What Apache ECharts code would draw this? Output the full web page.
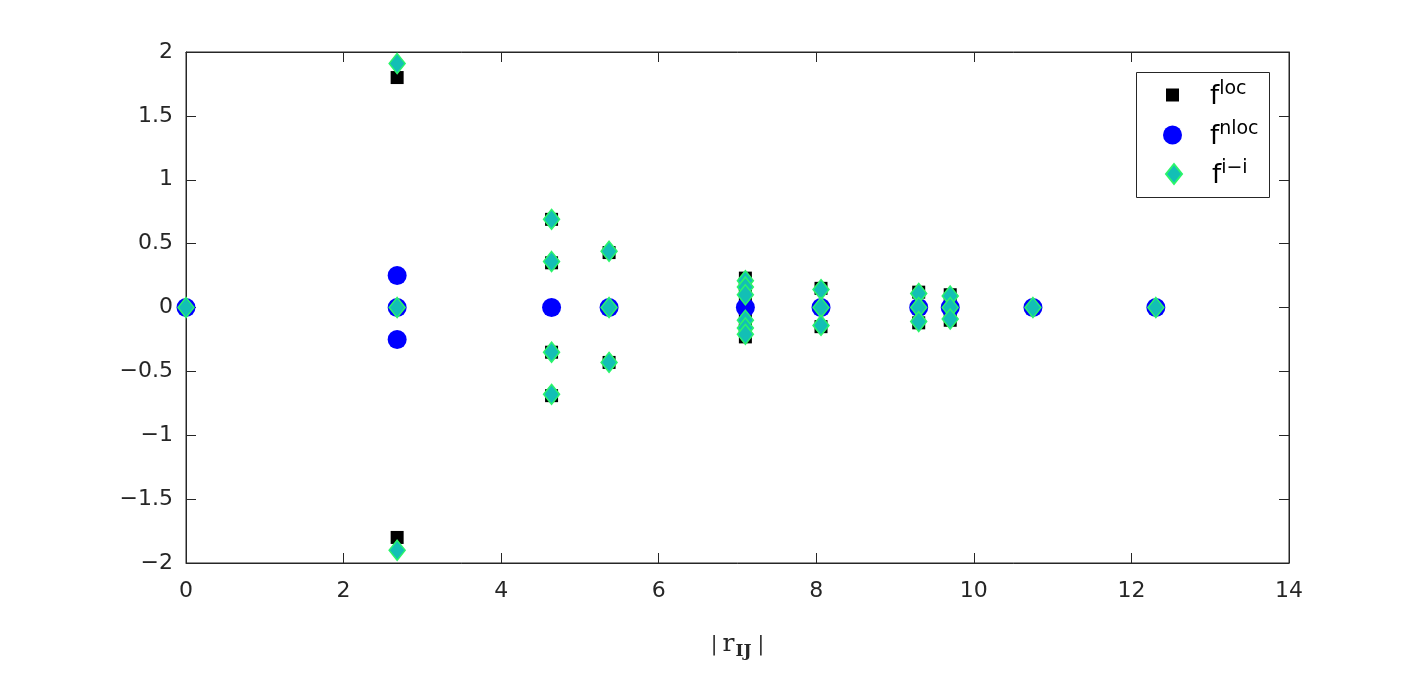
<!DOCTYPE html>
<html>
<head>
<meta charset="UTF-8">
<title>forces</title>
<script src="https://cdn.jsdelivr.net/npm/echarts@6/dist/echarts.min.js"></script>
<style>
  html, body { margin: 0; padding: 0; background: #fff; }
  #main { width: 1427px; height: 688px; }
</style>
</head>
<body>
<div id="main"></div>
<script>
// distances |r_IJ| and force components
var locX  = [0, 2.68, 2.68, 2.68, 4.64, 4.64, 4.64, 4.64, 5.37, 5.37, 5.37,
             7.1, 7.1, 7.1, 7.1, 7.1, 7.1, 8.06, 8.06, 8.06, 9.3, 9.3, 9.3, 9.7, 9.7, 9.7, 10.75, 12.31];
var locY  = [0, 1.8, 0, -1.8, 0.69, 0.35, -0.35, -0.69, 0.43, 0, -0.43,
             0.23, 0.18, 0.1, -0.1, -0.18, -0.23, 0.15, 0, -0.15, 0.12, 0, -0.12, 0.1, 0, -0.1, 0, 0];
var nlocX = [0, 2.68, 2.68, 2.68, 4.64, 5.37, 7.1, 8.06, 9.3, 9.7, 10.75, 12.31];
var nlocY = [0, 0.25, 0, -0.25, 0, 0, 0, 0, 0, 0, 0, 0];
var iiX   = [0, 2.68, 2.68, 2.68, 4.64, 4.64, 4.64, 4.64, 5.37, 5.37, 5.37,
             7.1, 7.1, 7.1, 7.1, 7.1, 7.1, 8.06, 8.06, 8.06, 9.3, 9.3, 9.3, 9.7, 9.7, 9.7, 10.75, 12.31];
var iiY   = [0, 1.91, 0, -1.9, 0.69, 0.36, -0.35, -0.68, 0.44, 0, -0.43,
             0.21, 0.16, 0.1, -0.1, -0.16, -0.21, 0.14, 0, -0.14, 0.11, 0, -0.11, 0.09, 0, -0.09, 0, 0];

function pairs(xs, ys) {
    return xs.map(function (x, i) { return [x, ys[i]]; });
}

var chart = echarts.init(document.getElementById('main'));
var axisColor = '#262626';
var font = 'DejaVu Sans';
var serif = 'DejaVu Serif';

function fmtY(v) {
    return (v < 0 ? '\u2212' : '') + Math.abs(v);
}

// superscript legend text
function legendText(pad) {
    return {
        color: '#000',
        rich: {
            f: { fontSize: 26, fontFamily: font, color: '#000', lineHeight: 30, verticalAlign: 'bottom', padding: [0, 0, 0, pad] },
            s: { fontSize: 19, fontFamily: font, color: '#000', lineHeight: 30, verticalAlign: 'top', padding: [0, 0, 12, 0] }
        }
    };
}
function supFmt(name) { return '{f|f}{s|' + name + '}'; }

var option = {
    animation: false,
    backgroundColor: '#fff',
    grid: { left: 186, right: 138, top: 52, bottom: 125, show: true,
            borderColor: axisColor, borderWidth: 1 },
    graphic: [{
        type: 'rect', left: 1136, top: 72, z: 3,
        shape: { width: 133, height: 125 },
        style: { fill: '#fff', stroke: axisColor, lineWidth: 1 }
    }],
    legend: [{
        left: 1166, top: 80, padding: 0,
        itemWidth: 13, itemHeight: 13,
        textStyle: legendText(26), formatter: supFmt,
        data: [{ name: 'loc', icon: 'rect' }]
    }, {
        left: 1163, top: 120, padding: 0,
        itemWidth: 19, itemHeight: 19,
        textStyle: legendText(23), formatter: supFmt,
        data: [{ name: 'nloc', icon: 'circle' }]
    }, {
        left: 1165, top: 159, padding: 0,
        itemWidth: 16, itemHeight: 20, symbolKeepAspect: false,
        textStyle: legendText(25), formatter: supFmt,
        data: [{ name: 'i\u2212i', icon: 'diamond' }]
    }],
    xAxis: [{
        type: 'value', min: 0, max: 14, interval: 2,
        axisLine: { show: true, onZero: false, lineStyle: { color: axisColor } },
        axisTick: { show: true, inside: true, length: 10, lineStyle: { color: axisColor } },
        axisLabel: { color: axisColor, fontSize: 22, fontFamily: font, margin: 17 },
        splitLine: { show: false },
        name: '{b||}{r|r}{sub|IJ}{b||}',
        nameLocation: 'middle',
        nameGap: 66,
        nameTextStyle: {
            rich: {
                b: { fontFamily: serif, fontSize: 20, color: axisColor },
                r: { fontFamily: serif, fontSize: 25, color: axisColor, padding: [0, 1, 0, 5] },
                sub: { fontFamily: serif, fontSize: 17, fontWeight: 'bold', color: axisColor,
                       verticalAlign: 'bottom', padding: [14, 6, 0, 0] }
            }
        }
    }, {
        type: 'value', min: 0, max: 14, interval: 2, position: 'top',
        axisLine: { show: true, onZero: false, lineStyle: { color: axisColor } },
        axisTick: { show: true, inside: true, length: 10, lineStyle: { color: axisColor } },
        axisLabel: { show: false },
        splitLine: { show: false }
    }],
    yAxis: [{
        type: 'value', min: -2, max: 2, interval: 0.5,
        axisLine: { show: true, onZero: false, lineStyle: { color: axisColor } },
        axisTick: { show: true, inside: true, length: 10, lineStyle: { color: axisColor } },
        axisLabel: { color: axisColor, fontSize: 22, fontFamily: font, margin: 13, formatter: fmtY },
        splitLine: { show: false }
    }, {
        type: 'value', min: -2, max: 2, interval: 0.5, position: 'right',
        axisLine: { show: true, onZero: false, lineStyle: { color: axisColor } },
        axisTick: { show: true, inside: true, length: 10, lineStyle: { color: axisColor } },
        axisLabel: { show: false },
        splitLine: { show: false }
    }],
    series: [{
        name: 'loc',
        type: 'scatter',
        symbol: 'rect',
        symbolSize: 13,
        itemStyle: { color: '#000', opacity: 1 },
        data: pairs(locX, locY)
    }, {
        name: 'nloc',
        type: 'scatter',
        symbol: 'circle',
        symbolSize: 19,
        itemStyle: { color: '#0000ff', opacity: 1 },
        data: pairs(nlocX, nlocY)
    }, {
        name: 'i\u2212i',
        type: 'scatter',
        symbol: 'diamond',
        symbolSize: [16, 20],
        itemStyle: { color: '#13bfb5', borderColor: '#2af56a', borderWidth: 1.5, opacity: 1 },
        data: pairs(iiX, iiY)
    }]
};

chart.setOption(option);
</script>
</body>
</html>
